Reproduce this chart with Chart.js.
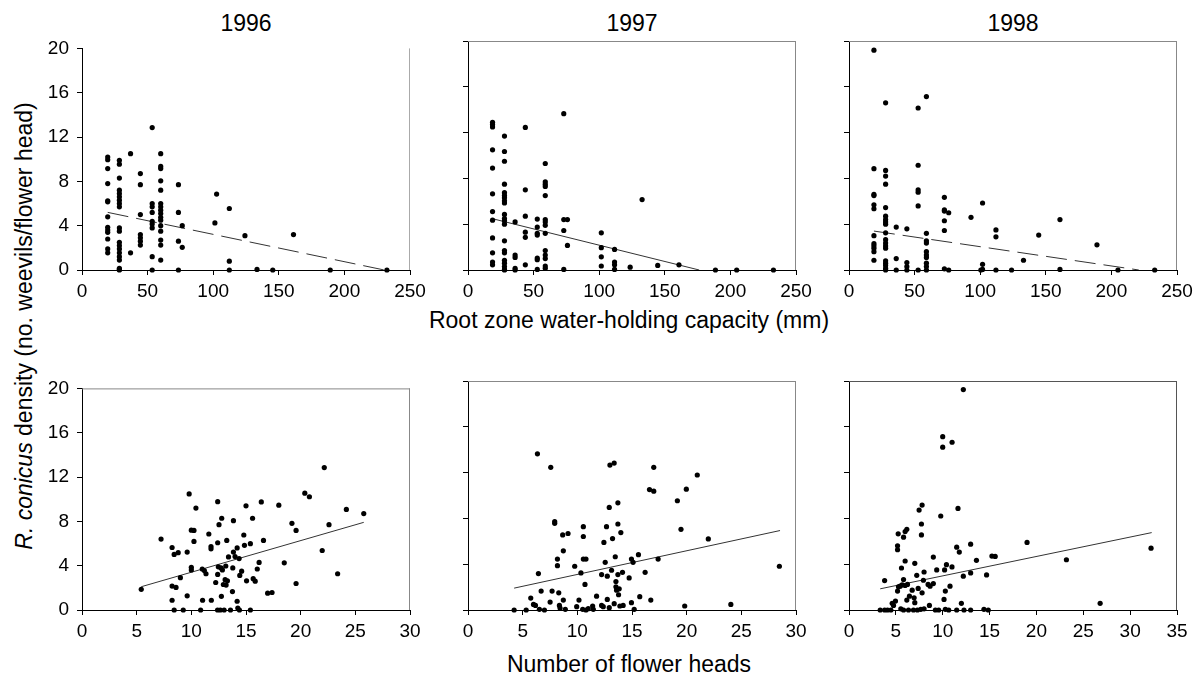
<!DOCTYPE html>
<html>
<head>
<meta charset="utf-8">
<script src="https://cdn.jsdelivr.net/npm/chart.js@4"></script>
<style>
  body { margin: 0; background: #fff; width: 1195px; height: 675px; position: relative; overflow: hidden;
         font-family: "Liberation Sans", Arial, sans-serif; }
  .panel { position: absolute; }
  .lbl { position: absolute; font-size: 23px; color: #000; white-space: nowrap; transform: translate(-50%, -50%); }
  .ylbl { position: absolute; font-size: 23px; color: #000; white-space: nowrap;
          transform: translate(-50%, -50%) rotate(-90deg); }
</style>
</head>
<body>

<div class="lbl" style="left:246px; top:23px;">1996</div>
<div class="lbl" style="left:632px; top:23px;">1997</div>
<div class="lbl" style="left:1013px; top:23px;">1998</div>
<div class="lbl" style="left:629px; top:320px;">Root zone water-holding capacity (mm)</div>
<div class="lbl" style="left:629px; top:664px;">Number of flower heads</div>
<div class="ylbl" style="left:24px; top:326px;"><i>R. conicus</i> density (no. weevils/flower head)</div>

<div class="panel" id="p1"><canvas id="c1"></canvas></div>
<div class="panel" id="p2"><canvas id="c2"></canvas></div>
<div class="panel" id="p3"><canvas id="c3"></canvas></div>
<div class="panel" id="p4"><canvas id="c4"></canvas></div>
<div class="panel" id="p5"><canvas id="c5"></canvas></div>
<div class="panel" id="p6"><canvas id="c6"></canvas></div>

<script>
// DATOS - columnas por capacidad de agua (x, lista de densidades)
const whc1996 = [
  [19.6, [10.2, 9.95, 9.15, 7.8, 6.25, 6.15, 4.8, 3.85, 3.6, 3.4, 2.8, 1.9, 1.55]],
  [28.5, [9.9, 9.55, 8.3, 7.2, 6.9, 6.6, 6.3, 6.0, 5.7, 3.8, 3.5, 2.5, 2.2, 1.9, 1.55, 1.2, 0.9, 0.15, 0.05, 0]],
  [37, [10.5, 1.55]],
  [44.5, [8.7, 7.7, 5.0, 3.2, 2.9, 2.6, 2.25]],
  [53.5, [12.85, 6.0, 5.7, 5.2, 4.4, 4.15, 3.8, 1.2, 0]],
  [60, [10.5, 9.35, 9.15, 8.05, 7.2, 6.0, 5.7, 5.4, 5.1, 4.75, 4.5, 4.0, 3.5, 2.7, 2.25, 0.9]],
  [73.5, [7.7, 5.2, 2.6, 0]],
  [76.4, [4.0, 2.05]],
  [101.3, [4.25]],
  [102.6, [6.85]],
  [112.3, [5.55, 0.8, 0]],
  [124.2, [3.1]],
  [133.4, [0.05]],
  [145.4, [0]],
  [161.2, [3.2]],
  [189.2, [0]],
  [232.4, [0]]
];
const whc1997 = [
  [18.7, [12.9, 12.7, 12.5, 10.5, 8.9, 6.65, 5.1, 4.35, 2.8, 1.5, 0.7, 0.45]],
  [27.8, [11.7, 10.35, 9.5, 7.5, 6.75, 6.5, 6.3, 6.05, 5.85, 4.85, 4.5, 4.3, 4.0, 2.55, 1.7, 1.5, 0.85, 0.6, 0.3, 0.05, 0]],
  [35.9, [4.2, 1.3, 1.1, 0.15, 0]],
  [43.7, [12.45, 7.0, 4.7, 3.3, 2.85, 0.45]],
  [52.8, [4.45, 3.75, 3.2, 3.05, 1.05, 0.9, 0.05]],
  [58.9, [9.3, 7.7, 7.5, 7.3, 6.5, 4.4, 4.2, 3.9, 3.2, 1.7, 1.3, 1.0, 0.35, 0.15]],
  [73, [13.65, 4.4, 3.45, 0.05]],
  [75.8, [4.4, 2.15]],
  [101.6, [3.25, 1.95, 1.15, 0.35]],
  [111.7, [1.8, 0.7, 0.45, 0.05]],
  [123.6, [0.25]],
  [132.7, [6.15]],
  [144.6, [0.4]],
  [160.8, [0.45]],
  [188.6, [0]],
  [204.8, [0]],
  [232.8, [0]]
];
const whc1998 = [
  [19, [19.2, 8.85, 6.6, 6.5, 5.7, 5.35, 3.0, 2.3, 2.1, 1.9, 1.6, 0.85]],
  [27.9, [14.6, 8.7, 8.2, 7.5, 5.45, 4.7, 4.4, 4.2, 4.0, 3.25, 2.65, 2.35, 2.1, 1.9, 0.8, 0.6, 0.4, 0.15, 0]],
  [36, [3.75, 1.0, 0]],
  [44.1, [3.6, 0.65, 0.3, 0]],
  [52.7, [14.15, 9.15, 7.0, 6.8, 5.6, 0]],
  [59, [15.15, 3.2, 2.55, 2.35, 1.6, 1.3, 1.1, 0.6, 0.3, 0]],
  [72.7, [6.35, 5.25, 5.15, 4.3, 3.45, 0.1]],
  [76, [5.0, 0]],
  [93, [4.6]],
  [100.5, [0]],
  [101.8, [5.85, 0.5, 0.05]],
  [112, [3.5, 2.9, 0]],
  [123.9, [0]],
  [133, [0.85]],
  [144.6, [3.05]],
  [160.8, [4.4, 0.05]],
  [189, [2.2]],
  [205, [0]],
  [233, [0]]
];

// DATOS - numero de cabezas florales vs densidad [x, y]
const heads1996 = [
  [5.42, 1.87], [7.23, 6.4], [8.24, 5.64], [8.43, 5.02], [8.8, 5.17], [8.24, 2.16], [8.6, 2.04], [8.24, 0.88],
  [8.43, 0], [9.0, 2.92], [9.26, 0], [9.62, 5.23], [9.62, 1.28], [9.8, 10.48], [10.0, 7.2], [10.24, 7.18],
  [10.0, 3.85], [10.0, 3.62], [10.24, 6.19], [10.42, 9.2], [10.85, 0], [11.0, 3.7], [11.03, 0.88], [11.19, 3.56],
  [11.34, 3.27], [11.6, 6.86], [11.8, 5.72], [11.8, 5.52], [11.83, 0.88], [12.23, 2.48], [12.41, 9.78], [12.41, 6.07],
  [12.41, 3.21], [12.47, 3.9], [12.53, 7.7], [12.4, 0], [12.65, 0], [12.78, 8.28], [12.72, 3.8], [12.75, 1.23],
  [12.84, 3.62], [12.93, 2.3], [13.0, 0], [13.09, 2.74], [13.15, 3.97], [13.18, 2.25], [13.24, 6.28], [13.3, 2.63],
  [13.4, 4.79], [13.58, 0], [13.76, 1.66], [13.79, 3.8], [13.85, 5.23], [13.85, 8.06], [14.0, 4.82], [14.19, 5.6],
  [14.19, 0.79], [14.25, 0.18], [14.4, 0], [14.37, 4.64], [14.43, 3.12], [14.6, 3.5], [14.8, 6.77], [14.86, 5.84],
  [15.0, 9.4], [15.05, 2.63], [15.4, 5.99], [15.4, 0], [15.6, 8.28], [15.66, 2.83], [15.84, 2.6], [16.03, 3.7],
  [16.2, 4.29], [16.4, 9.75], [16.6, 6.28], [16.98, 1.52], [17.38, 1.58], [18.0, 9.46], [18.5, 4.26], [19.2, 7.82],
  [19.58, 7.18], [19.58, 2.39], [20.38, 10.54], [20.8, 10.22], [21.97, 5.37], [22.16, 12.85], [22.59, 7.7],
  [23.38, 3.27], [24.18, 9.08], [25.77, 8.7]
];
const heads1997 = [
  [4.22, 0], [5.32, 0], [5.74, 1.04], [5.99, 0.49], [6.17, 0.4], [6.35, 13.64], [6.44, 3.18], [6.53, 0.06],
  [6.69, 1.65], [6.99, 0], [7.51, 0.69], [7.57, 12.46], [7.69, 1.65], [7.93, 7.72], [7.93, 7.57], [8.18, 3.87],
  [8.18, 4.45], [8.3, 1.5], [8.36, 0.4], [8.42, 0.17], [8.66, 6.56], [8.72, 0.87], [8.72, 5.17], [8.9, 0.06],
  [9.15, 6.68], [9.76, 3.82], [9.94, 0.29], [10.15, 0.87], [10.33, 3.24], [10.49, 0.06], [10.55, 7.28], [10.55, 6.42],
  [10.55, 4.45], [10.79, 4.45], [10.7, 2.23], [10.79, 0], [11.0, 0.12], [11.4, 0.35], [11.46, 0.06], [11.76, 1.21],
  [12.22, 3.09], [12.22, 0.4], [12.37, 0.29], [12.43, 5.9], [12.55, 4.16], [12.67, 7.28], [12.74, 2.95], [12.74, 0.92],
  [12.92, 8.96], [12.92, 0.2], [12.98, 12.66], [13.13, 3.47], [13.22, 6.24], [13.37, 12.83], [13.37, 0.55], [13.47, 4.65],
  [13.53, 2.49], [13.53, 2.02], [13.59, 1.73], [13.71, 3.09], [13.71, 9.36], [13.71, 7.51], [13.77, 1.33], [13.83, 1.85],
  [13.89, 0.35], [13.98, 6.76], [14.13, 3.29], [14.19, 0.4], [14.74, 2.8], [14.95, 4.45], [14.95, 0.64], [15.1, 4.16],
  [15.2, 0.06], [15.59, 4.83], [15.71, 1.16], [16.2, 3.29], [16.6, 10.52], [16.72, 0.87], [16.99, 10.38], [16.99, 12.46],
  [17.39, 4.45], [19.15, 9.54], [19.48, 7.05], [19.82, 0.35], [19.97, 10.55], [20.97, 11.79], [21.98, 6.21],
  [24.04, 0.49], [28.48, 3.82]
];
const heads1998 = [
  [12.2, 19.25], [10.0, 15.14], [10.0, 14.22], [11.0, 14.65], [7.8, 9.16], [7.48, 8.73], [11.63, 8.87], [9.79, 8.21],
  [7.73, 7.51], [7.73, 6.56], [5.25, 6.65], [5.82, 6.36], [5.99, 6.85], [6.17, 7.05], [5.18, 5.61], [5.18, 5.26],
  [11.49, 5.49], [11.77, 5.06], [12.98, 5.75], [19.0, 5.9], [32.23, 5.4], [9.0, 4.62], [5.99, 4.28], [7.02, 4.08],
  [5.6, 3.67], [9.36, 3.5], [10.2, 3.5], [10.4, 3.96], [10.99, 3.76], [13.6, 4.34], [15.25, 4.71], [15.6, 4.68],
  [23.2, 4.39], [3.8, 2.57], [5.82, 2.66], [7.23, 3.03], [8.01, 3.32], [7.94, 2.6], [12.2, 2.95], [12.98, 3.24],
  [14.68, 3.06], [5.46, 2.08], [5.28, 2.02], [5.67, 2.2], [5.99, 2.14], [6.24, 2.23], [8.44, 2.23], [8.65, 2.08],
  [9.0, 2.31], [5.18, 1.65], [6.74, 1.73], [7.38, 1.88], [7.8, 1.5], [10.28, 1.65], [10.78, 2.08], [10.14, 0.92],
  [6.45, 1.21], [6.17, 0.87], [6.95, 1.07], [7.02, 0.64], [4.96, 0.78], [4.61, 0.58], [4.75, 0.4], [11.99, 0.58],
  [26.8, 0.58], [3.33, 0], [3.8, 0], [4.11, 0], [4.47, 0], [5.53, 0.1], [5.82, 0], [6.35, 0], [6.88, 0], [7.3, 0],
  [7.66, 0.06], [8.01, 0.1], [8.58, 0.4], [9.22, 0], [9.57, 0], [10.28, 0.06], [10.64, 0], [11.49, 0], [12.27, 0],
  [12.98, 0], [14.4, 0.06], [14.86, 0]
];

// Lineas de tendencia (extremos)
const fitWhc1996 = [[19.6, 5.2], [230.4, 0]];
const fitWhc1997 = [[18.7, 4.48], [176.2, 0]];
const fitWhc1998 = [[19, 3.4], [220.9, 0]];
const fitHeads1996 = [[5.42, 2.1], [25.77, 7.91]];
const fitHeads1997 = [[4.22, 1.91], [28.54, 6.94]];
const fitHeads1998 = [[3.33, 1.85], [32.3, 6.76]];

// Ticks
const densityTicks = [0, 4, 8, 12, 16, 20];
const whcTicks = [0, 50, 100, 150, 200, 250];
const headsTicks30 = [0, 5, 10, 15, 20, 25, 30];
const headsTicks35 = [0, 5, 10, 15, 20, 25, 30, 35];

Chart.defaults.font.family = "'Liberation Sans', Arial, sans-serif";
Chart.defaults.color = "#000";

// Marco gris arriba / derecha
const framePlugin = {
  id: 'frame',
  afterDraw(chart, args, opts) {
    const { ctx, chartArea: a } = chart;
    ctx.save();
    ctx.strokeStyle = opts.color;
    ctx.lineWidth = 1;
    ctx.beginPath();
    if (opts.top) {
      ctx.moveTo(a.left, a.top + 0.5);
      ctx.lineTo(a.right, a.top + 0.5);
    }
    ctx.moveTo(a.right - 0.5, a.top);
    ctx.lineTo(a.right - 0.5, a.bottom);
    ctx.stroke();
    ctx.restore();
  }
};

const colLeft = [82, 468, 849];
const rowTop = [41, 381];
const plotW = 328;
const plotH = 229;
const axisW = 55, axisH = 35, padTop = 12, padRight = 22;

function toPoints(cols) {
  const pts = [];
  cols.forEach(c => c[1].forEach(v => pts.push({ x: c[0], y: v })));
  return pts;
}
function pairs(arr) {
  return arr.map(p => ({ x: p[0], y: p[1] }));
}

function panel(n, col, row, pts, fit, xTicks, dashed, showY, frame) {
  const box = document.getElementById('p' + n);
  const cv = document.getElementById('c' + n);
  const w = axisW + plotW + padRight;
  const h = padTop + plotH + axisH;
  box.style.left = (colLeft[col] - axisW) + 'px';
  box.style.top = (rowTop[row] - padTop) + 'px';
  cv.width = w;
  cv.height = h;

  const config = {
    type: 'scatter',
    data: {
      datasets: [
        {
          data: pts,
          pointRadius: 2.6,
          pointBackgroundColor: '#000',
          pointBorderWidth: 0,
          clip: false,
          order: 1
        },
        {
          type: 'line',
          data: pairs(fit),
          borderColor: '#333',
          borderWidth: 1,
          borderDash: dashed ? [21, 8] : [],
          pointRadius: 0,
          fill: false,
          order: 2
        }
      ]
    },
    options: {
      responsive: false,
      animation: false,
      devicePixelRatio: 1,
      events: [],
      layout: { padding: { top: padTop, right: padRight, left: 0, bottom: 0 } },
      plugins: {
        legend: { display: false },
        tooltip: { enabled: false },
        frame: frame
      },
      scales: {
        x: {
          type: 'linear',
          min: xTicks[0],
          max: xTicks[xTicks.length - 1],
          afterBuildTicks: s => { s.ticks = xTicks.map(v => ({ value: v })); },
          afterFit: s => { s.height = axisH; },
          ticks: { font: { size: 19 }, color: '#000', padding: 5, maxRotation: 0 },
          grid: { drawOnChartArea: false, drawTicks: true, tickLength: 5, color: '#000' },
          border: { color: '#000', width: 1 }
        },
        y: {
          type: 'linear',
          min: 0,
          max: 20,
          afterBuildTicks: s => { s.ticks = densityTicks.map(v => ({ value: v })); },
          afterFit: s => { s.width = axisW; },
          ticks: { display: showY, font: { size: 19 }, color: '#000', padding: 8 },
          grid: { drawOnChartArea: false, drawTicks: true, tickLength: 5, color: '#000' },
          border: { color: '#000', width: 1 }
        }
      }
    },
    plugins: [framePlugin]
  };
  return new Chart(cv, config);
}

panel(1, 0, 0, toPoints(whc1996), fitWhc1996, whcTicks, true, true, { top: false, color: '#aaa' });
panel(2, 1, 0, toPoints(whc1997), fitWhc1997, whcTicks, false, false, { top: true, color: '#888' });
panel(3, 2, 0, toPoints(whc1998), fitWhc1998, whcTicks, true, false, { top: true, color: '#888' });
panel(4, 0, 1, pairs(heads1996), fitHeads1996, headsTicks30, false, true, { top: true, color: '#888' });
panel(5, 1, 1, pairs(heads1997), fitHeads1997, headsTicks30, false, false, { top: true, color: '#888' });
panel(6, 2, 1, pairs(heads1998), fitHeads1998, headsTicks35, false, false, { top: true, color: '#555' });
</script>
</body>
</html>
